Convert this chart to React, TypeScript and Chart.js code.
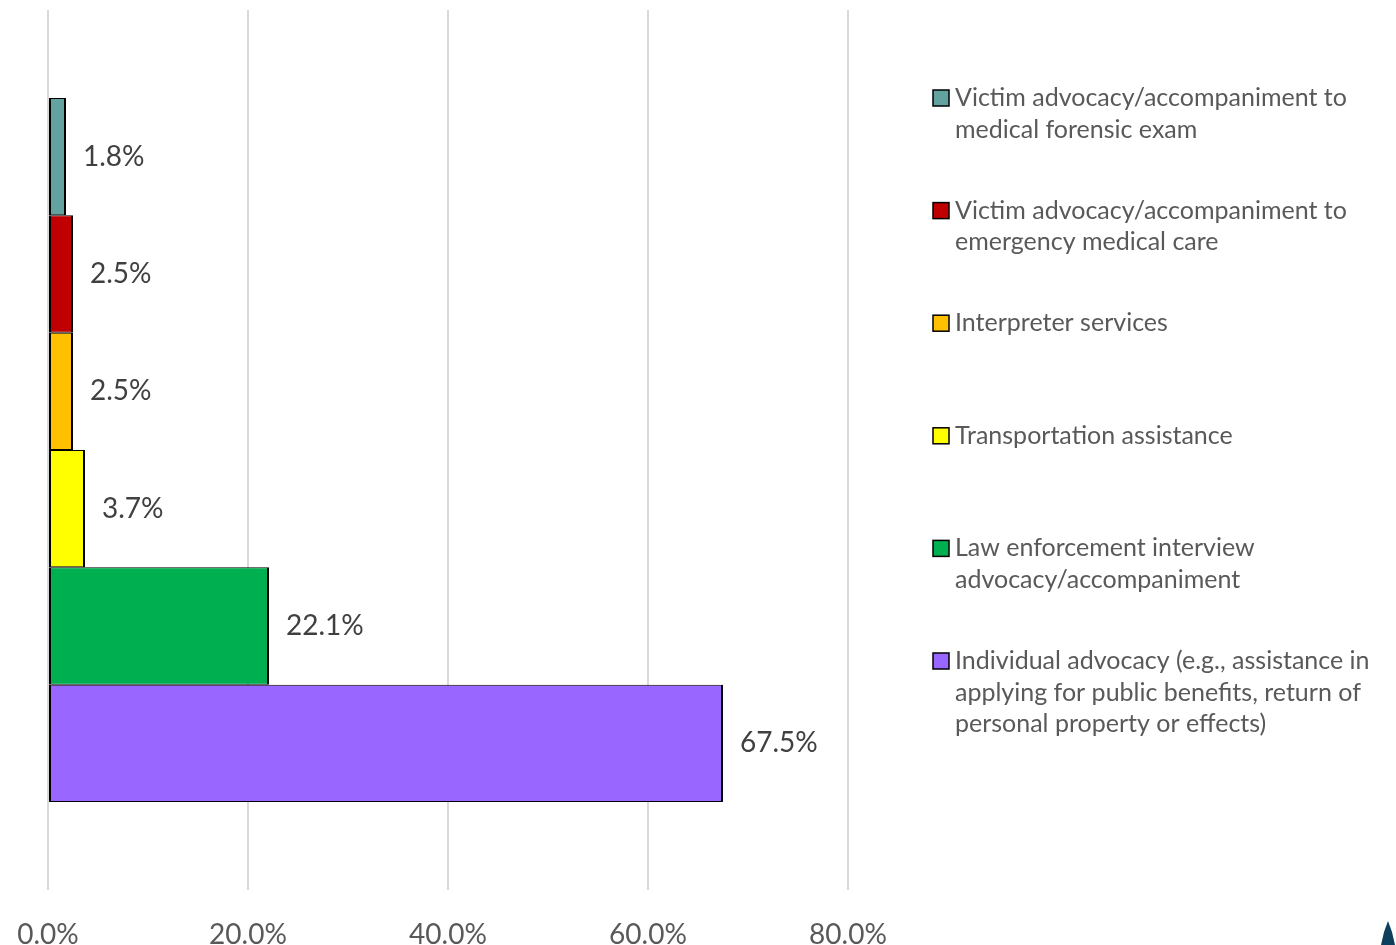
import React, { useEffect, useRef } from 'react';
import { Chart, registerables } from 'chart.js';

Chart.register(...registerables);

const categories = [
  'Victim advocacy/accompaniment to medical forensic exam',
  'Victim advocacy/accompaniment to emergency medical care',
  'Interpreter services',
  'Transportation assistance',
  'Law enforcement interview advocacy/accompaniment',
  'Individual advocacy (e.g., assistance in applying for public benefits, return of personal property or effects)',
];
const legendLines = [
  ['Victim advocacy/accompaniment to', 'medical forensic exam'],
  ['Victim advocacy/accompaniment to', 'emergency medical care'],
  ['Interpreter services'],
  ['Transportation assistance'],
  ['Law enforcement interview', 'advocacy/accompaniment'],
  ['Individual advocacy (e.g., assistance in', 'applying for public benefits, return of', 'personal property or effects)'],
];
const values = [1.8, 2.5, 2.5, 3.7, 22.1, 67.5];
const colors = ['#62A39F', '#C00000', '#FFC000', '#FFFF00', '#00B050', '#9966FF'];
const xMin = 0;
const xMax = 80;
const xStep = 20;

const FONT = 'Lato, "Open Sans", sans-serif';

const labelPlugin = {
  id: 'valueLabels',
  afterDatasetsDraw(chart: any) {
    const ctx = chart.ctx;
    ctx.save();
    ctx.font = `28px ${FONT}`;
    ctx.fillStyle = '#404040';
    ctx.textAlign = 'left';
    ctx.textBaseline = 'middle';
    chart.data.datasets.forEach((ds: any, i: number) => {
      const meta = chart.getDatasetMeta(i);
      const el = meta.data[0];
      if (!el) return;
      ctx.fillText(`${Number(ds.data[0]).toFixed(1)}%`, el.x + 17, el.y);
    });
    ctx.restore();
  },
};

const legendPlugin = {
  id: 'customLegend',
  afterDraw(chart: any) {
    const ctx = chart.ctx;
    const area = chart.chartArea;
    const boxX = area.right + 85;
    const textX = area.right + 107;
    const startY = area.top + 88;
    const gap = 112.6;
    const lineH = 31.7;
    ctx.save();
    ctx.font = `25px ${FONT}`;
    ctx.textAlign = 'left';
    ctx.textBaseline = 'middle';
    chart.data.datasets.forEach((ds: any, i: number) => {
      const y = startY + i * gap;
      ctx.fillStyle = ds.backgroundColor;
      ctx.fillRect(boxX, y - 8, 16, 16);
      ctx.strokeStyle = '#000';
      ctx.lineWidth = 1.5;
      ctx.strokeRect(boxX, y - 8, 16, 16);
      ctx.fillStyle = '#595959';
      legendLines[i].forEach((line, j) => {
        ctx.fillText(line, textX, y + j * lineH);
      });
    });
    // small logo mark in bottom-right corner
    const w = chart.width;
    const h = chart.height;
    ctx.fillStyle = '#0E3F5C';
    ctx.beginPath();
    ctx.moveTo(w - 8, h - 24);
    ctx.lineTo(w - 12, h - 13);
    ctx.lineTo(w - 15, h);
    ctx.lineTo(w - 1, h);
    ctx.lineTo(w - 4, h - 13);
    ctx.closePath();
    ctx.fill();
    ctx.restore();
  },
};

export default function App() {
  const ref = useRef<HTMLCanvasElement>(null);
  useEffect(() => {
    document.body.style.margin = '0';
    const canvas = ref.current;
    if (!canvas) return;
    const chart = new Chart(canvas, {
      type: 'bar',
      data: {
        labels: [''],
        datasets: categories.map((c, i) => ({
          label: c,
          data: [values[i]],
          backgroundColor: colors[i],
          borderColor: '#000000',
          borderWidth: { top: 1, bottom: 1, left: 2, right: 2 },
          borderSkipped: false,
          categoryPercentage: 0.8,
          barPercentage: 1,
        })),
      },
      options: {
        indexAxis: 'y',
        responsive: false,
        maintainAspectRatio: false,
        animation: false,
        devicePixelRatio: 1,
        layout: { padding: { left: 48, right: 548, top: 10, bottom: 0 } },
        plugins: {
          legend: { display: false },
          tooltip: { enabled: false },
        },
        scales: {
          x: {
            min: xMin,
            max: xMax,
            ticks: {
              stepSize: xStep,
              callback: (v: any) => `${Number(v).toFixed(1)}%`,
              font: { family: FONT, size: 28 },
              color: '#595959',
              padding: 28,
            },
            grid: { color: '#d9d9d9', lineWidth: 2, drawTicks: false },
            border: { display: false },
            afterFit: (scale: any) => {
              scale.height = 55;
              scale.paddingLeft = 0;
              scale.paddingRight = 0;
            },
          },
          y: { display: false },
        },
      } as any,
      plugins: [labelPlugin, legendPlugin],
    });
    return () => chart.destroy();
  }, []);
  return (
    <div style={{ width: 1396, height: 945 }}>
      <canvas ref={ref} width={1396} height={945} />
    </div>
  );
}
